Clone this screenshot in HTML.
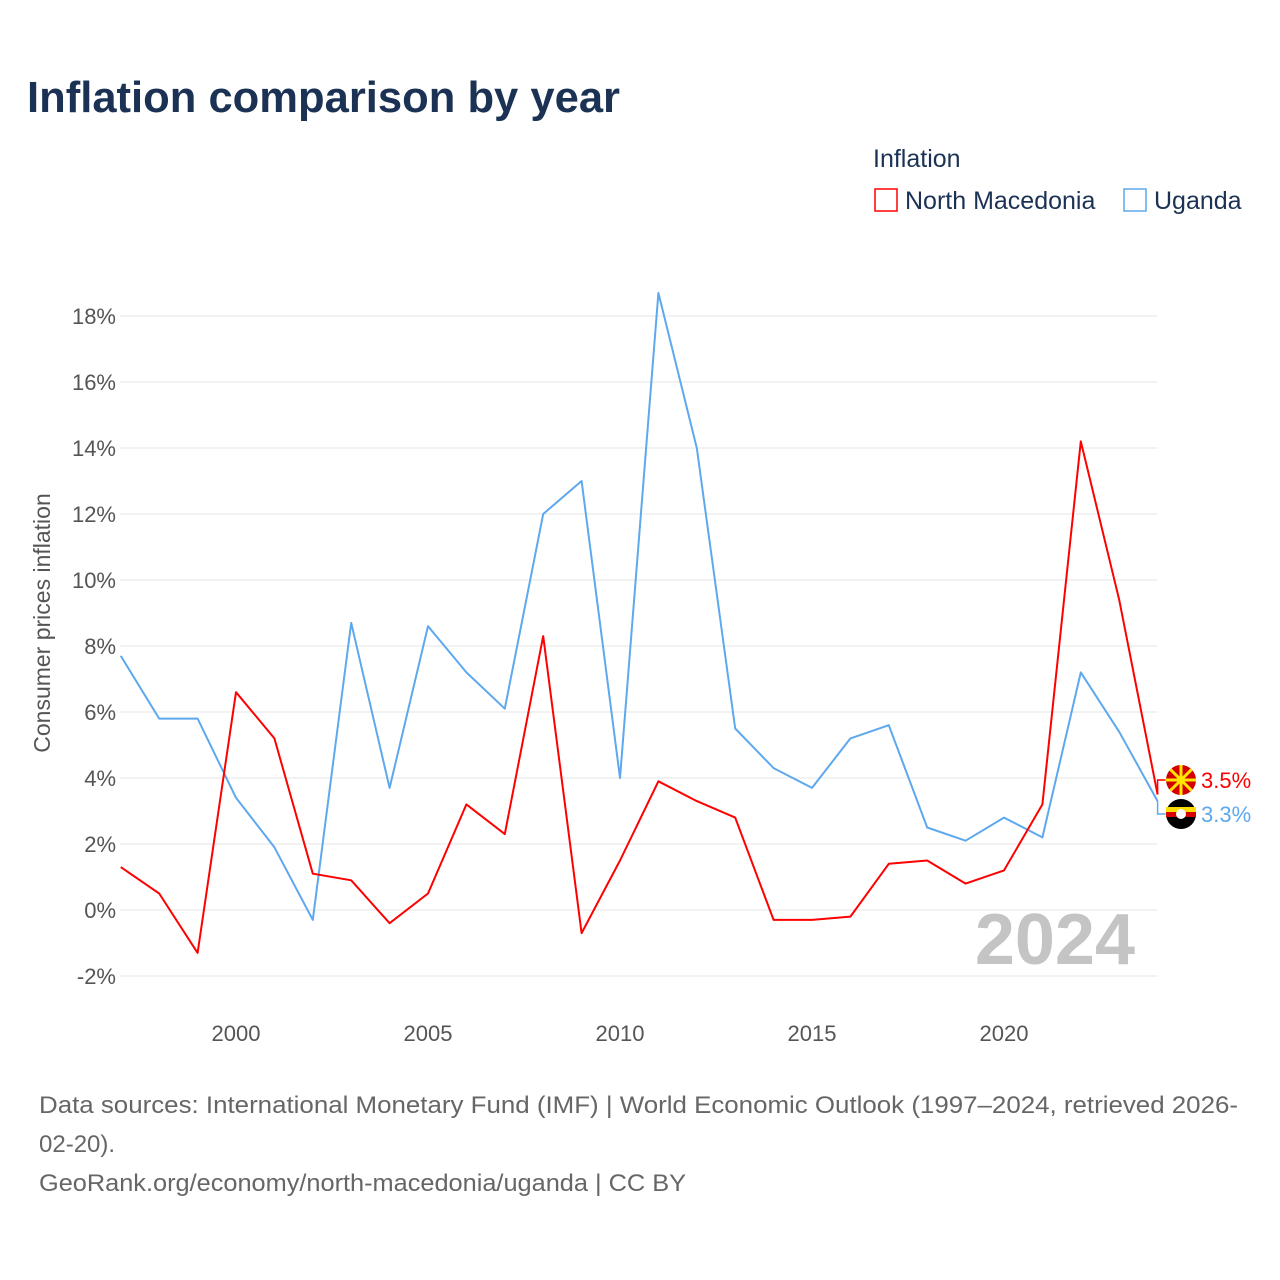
<!DOCTYPE html>
<html><head><meta charset="utf-8"><style>
body{margin:0;background:#fff;font-family:"Liberation Sans",sans-serif;}
#wrap{position:relative;width:1280px;height:1280px;overflow:hidden}
</style></head><body>
<div id="wrap">
<svg id="chart" width="1280" height="1280">
<text x="27" y="112" font-size="44" font-weight="bold" fill="#1b3254" textLength="593" lengthAdjust="spacingAndGlyphs">Inflation comparison by year</text>
<text x="873" y="167" font-size="25" fill="#1b3254">Inflation</text>
<g><rect x="875" y="189" width="22" height="22" fill="#fff" stroke="#ff0000" stroke-width="1.5"/><text x="905" y="209" font-size="25" fill="#1b3254">North Macedonia</text></g>
<g><rect x="1124" y="189" width="22" height="22" fill="#fff" stroke="#5ea8ee" stroke-width="1.5"/><text x="1154" y="209" font-size="25" fill="#1b3254">Uganda</text></g>
<text transform="translate(50,623) rotate(-90)" text-anchor="middle" font-size="23" fill="#555">Consumer prices inflation</text>
<g id="grid"></g>
<g id="yticks"></g>
<g id="xticks"></g>
<text x="1135" y="964" text-anchor="end" font-size="72" font-weight="bold" fill="#c4c4c4">2024</text>
<g id="series"></g>
<g id="ends"></g>
<text x="39" y="1113" font-size="24" fill="#666" textLength="1199" lengthAdjust="spacingAndGlyphs">Data sources: International Monetary Fund (IMF) | World Economic Outlook (1997–2024, retrieved 2026-</text>
<text x="39" y="1152" font-size="24" fill="#666">02-20).</text>
<text x="39" y="1191" font-size="24" fill="#666" textLength="647" lengthAdjust="spacingAndGlyphs">GeoRank.org/economy/north-macedonia/uganda | CC BY</text>
</svg>
</div>
<script>
const years=[1997,1998,1999,2000,2001,2002,2003,2004,2005,2006,2007,2008,2009,2010,2011,2012,2013,2014,2015,2016,2017,2018,2019,2020,2021,2022,2023,2024];
const macedonia=[1.3,0.5,-1.3,6.6,5.2,1.1,0.9,-0.4,0.5,3.2,2.3,8.3,-0.7,1.5,3.9,3.3,2.8,-0.3,-0.3,-0.2,1.4,1.5,0.8,1.2,3.2,14.2,9.4,3.5];
const uganda=[7.7,5.8,5.8,3.4,1.9,-0.3,8.7,3.7,8.6,7.2,6.1,12.0,13.0,4.0,18.7,14.0,5.5,4.3,3.7,5.2,5.6,2.5,2.1,2.8,2.2,7.2,5.4,3.3];
const yTicks=[-2,0,2,4,6,8,10,12,14,16,18];
const xTicks=[2000,2005,2010,2015,2020];
const NS="http://www.w3.org/2000/svg";
const x=y=>120.8+(y-1997)*38.4;
const yv=v=>910-v*33;
function mk(t,a,p){const e=document.createElementNS(NS,t);for(const k in a)e.setAttribute(k,a[k]);p.appendChild(e);return e;}
const grid=document.getElementById('grid'),yt=document.getElementById('yticks'),xt=document.getElementById('xticks');
yTicks.forEach(v=>{
 const l=mk('line',{x1:120,x2:1157,y1:yv(v),y2:yv(v),stroke:'#e6e6e6','stroke-width':1},grid);
 
 
 const t=mk('text',{x:116,y:yv(v)+8,'text-anchor':'end','font-size':22,fill:'#555'},yt);
 t.textContent=v+'%';
 
 
});
xTicks.forEach(v=>{
 const t=mk('text',{x:x(v),y:1041,'text-anchor':'middle','font-size':22,fill:'#555'},xt);
 t.textContent=v;
 
 
});
const s=document.getElementById('series');
function line(d,c,n){
 const p=mk('polyline',{points:d.map((v,i)=>x(years[i])+','+yv(v)).join(' '),fill:'none',stroke:c,'stroke-width':2,'stroke-linejoin':'round'},s);
 
 
}
line(uganda,'#5ea8ee','line-uganda');
line(macedonia,'#ff0000','line-north-macedonia');
const ends=document.getElementById('ends');
function endLabel(v,ly,c,n,flag){
 const ex=x(2024);
 mk('polyline',{points:`${ex},${yv(v)} ${ex},${ly} ${ex+8},${ly}`,fill:'none',stroke:c,'stroke-width':1.5},ends);
 const g=mk('g',{},ends);
 
 
 if(flag==='mk'){
  mk('circle',{cx:1181,cy:ly,r:15,fill:'#d20000'},g);
  for(let a=0;a<8;a++){const r=a*Math.PI/4;mk('line',{x1:1181,y1:ly,x2:1181+15*Math.cos(r),y2:ly+15*Math.sin(r),stroke:'#ffe600','stroke-width':3},g);}
  mk('circle',{cx:1181,cy:ly,r:4,fill:'#ffe600'},g);
 }else{
  mk('circle',{cx:1181,cy:ly,r:15,fill:'#000'},g);
  mk('rect',{x:1166,y:ly-7,width:30,height:5,fill:'#fcdc04'},g);
  mk('rect',{x:1166,y:ly-2,width:30,height:5,fill:'#d90000'},g);
  mk('circle',{cx:1181,cy:ly,r:5,fill:'#fff'},g);
 }
 const t=mk('text',{x:1201,y:ly+8,'font-size':22,fill:c},g);
 t.textContent=v.toFixed(1)+'%';
}
endLabel(macedonia[27],780,'#ff0000','end-label-north-macedonia','mk');
endLabel(uganda[27],814,'#5ea8ee','end-label-uganda','ug');
</script>
</body></html>
